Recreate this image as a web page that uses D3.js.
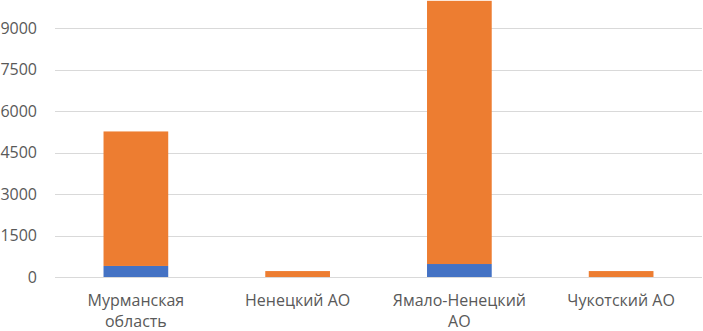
<!DOCTYPE html>
<html>
<head>
<meta charset="utf-8">
<script src="https://cdn.jsdelivr.net/npm/d3@7"></script>
<style>
  html, body { margin: 0; padding: 0; background: #fff; }
  svg { display: block; font-family: "Open Sans", "Noto Sans", sans-serif; }
</style>
</head>
<body>
<svg id="chart"></svg>
<script>
const categories = ["Мурманская область", "Ненецкий АО", "Ямало-Ненецкий АО", "Чукотский АО"];
const seriesBlue = [400, 0, 470, 0];
const seriesOrange = [4870, 215, 9530, 215];
const yTicks = [0, 1500, 3000, 4500, 6000, 7500, 9000];
const yMax = 10500;

const width = 703;
const height = 331;
const margin = { left: 55, right: 1, top: -13, bottom: 54 };

const svg = d3.select("#chart").attr("width", width).attr("height", height);

const x = d3
  .scaleBand()
  .domain(categories)
  .range([margin.left, width - margin.right])
  .paddingInner(0.6)
  .paddingOuter(0.3);

const y = d3
  .scaleLinear()
  .domain([0, yMax])
  .range([height - margin.bottom, margin.top]);

// gridlines
svg
  .append("g")
  .selectAll("line")
  .data(yTicks)
  .enter()
  .append("line")
  .attr("x1", margin.left)
  .attr("x2", width - margin.right)
  .attr("y1", (d) => Math.round(y(d)) + 0.5)
  .attr("y2", (d) => Math.round(y(d)) + 0.5)
  .style("stroke", "#d9d9d9")
  .style("stroke-width", "1px");

// y labels
svg
  .append("g")
  .selectAll("text")
  .data(yTicks)
  .enter()
  .append("text")
  .attr("x", 37)
  .attr("y", (d) => y(d))
  .attr("dy", "0.35em")
  .attr("text-anchor", "end")
  .style("fill", "#595959")
  .style("font-size", "16px")
  .text((d) => d);

// stacked bars
const rows = categories.map((c, i) => ({ cat: c, blue: seriesBlue[i], orange: seriesOrange[i] }));
const stack = d3.stack().keys(["blue", "orange"])(rows);
const colors = { blue: "#4472c4", orange: "#ed7d31" };

svg
  .append("g")
  .selectAll("g")
  .data(stack)
  .enter()
  .append("g")
  .attr("fill", (s) => colors[s.key])
  .selectAll("rect")
  .data((s) => s)
  .enter()
  .append("rect")
  .attr("x", (d) => x(d.data.cat))
  .attr("width", x.bandwidth())
  .attr("y", (d) => y(d[1]))
  .attr("height", (d) => y(d[0]) - y(d[1]));

// category labels, wrapped when wider than the band
const maxLabel = 145;
const labels = svg
  .append("g")
  .selectAll("text")
  .data(categories)
  .enter()
  .append("text")
  .attr("x", (d) => x(d) + x.bandwidth() / 2)
  .attr("y", 306)
  .attr("text-anchor", "middle")
  .style("fill", "#595959")
  .style("font-size", "16px");

labels.each(function (d) {
  const t = d3.select(this);
  const words = d.split(" ");
  let line = [];
  let tspan = t.append("tspan").attr("x", t.attr("x")).attr("dy", 0);
  words.forEach((w) => {
    line.push(w);
    tspan.text(line.join(" "));
    if (tspan.node().getComputedTextLength() > maxLabel && line.length > 1) {
      line.pop();
      tspan.text(line.join(" "));
      line = [w];
      tspan = t.append("tspan").attr("x", t.attr("x")).attr("dy", 21).text(w);
    }
  });
});
</script>
</body>
</html>
